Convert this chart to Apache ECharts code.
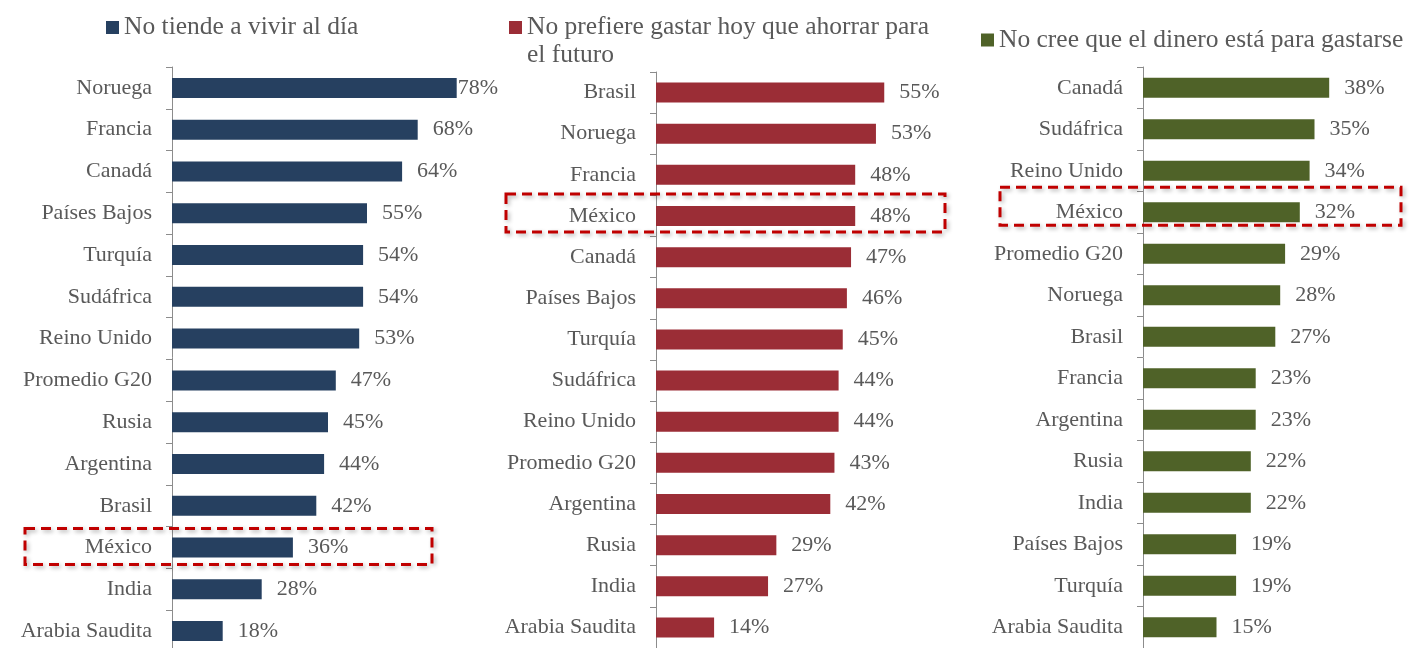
<!DOCTYPE html>
<html><head><meta charset="utf-8">
<script src="https://cdn.jsdelivr.net/npm/echarts@6/dist/echarts.min.js"></script>
<style>html,body{margin:0;padding:0;background:#fff}#c{width:1412px;height:648px}</style>
</head><body><div id="c"></div>
<script>
const seriesNames = ["No tiende a vivir al día", "No prefiere gastar hoy que ahorrar para el futuro", "No cree que el dinero está para gastarse"];
const cats1 = ["Noruega","Francia","Canadá","Países Bajos","Turquía","Sudáfrica","Reino Unido","Promedio G20","Rusia","Argentina","Brasil","México","India","Arabia Saudita"];
const vals1 = [78,68,64,55,54,54,53,47,45,44,42,36,28,18];
const cats2 = ["Brasil","Noruega","Francia","México","Canadá","Países Bajos","Turquía","Sudáfrica","Reino Unido","Promedio G20","Argentina","Rusia","India","Arabia Saudita"];
const vals2 = [55,53,48,48,47,46,45,44,44,43,42,29,27,14];
const cats3 = ["Canadá","Sudáfrica","Reino Unido","México","Promedio G20","Noruega","Brasil","Francia","Argentina","Rusia","India","Países Bajos","Turquía","Arabia Saudita"];
const vals3 = [38,35,34,32,29,28,27,23,23,22,22,19,19,15];
const highlightCat = "México";

const FONT = '"Liberation Serif", "Times New Roman", serif';
const TXT = '#595959';
const colors = ['#264060', '#9B2D36', '#4F6228'];
const panels = [
  {cats: cats1, vals: vals1, grid: {left:172, top:67, width:312, height:585}, min:5, max:85, legend:{left:106, top:14.5}},
  {cats: cats2, vals: vals2, grid: {left:656, top:72, width:249, height:576}, min:0, max:60, legend:{left:509, top:13.5}},
  {cats: cats3, vals: vals3, grid: {left:1143, top:67, width:245, height:581}, min:0, max:50, legend:{left:981, top:27}}
];

const chart = echarts.init(document.getElementById('c'), null, {renderer:'canvas'});
const option = {
  animation: false,
  backgroundColor: '#fff',
  grid: panels.map(p => Object.assign({outerBoundsMode:'none', containLabel:false}, p.grid)),
  xAxis: panels.map((p,i) => ({type:'value', gridIndex:i, min:p.min, max:p.max, show:false})),
  yAxis: panels.map((p,i) => ({
    type:'category', gridIndex:i, inverse:true, data:p.cats,
    axisLine:{show:true, lineStyle:{color:'#8c8c8c', width:1}},
    axisTick:{show:true, length:6, lineStyle:{color:'#8c8c8c'}},
    axisLabel:{margin:20, color:TXT, fontFamily:FONT, fontSize:22}
  })),
  legend: panels.map((p,i) => ({
    data:[seriesNames[i]], left:p.legend.left, top:p.legend.top, padding:0,
    selectedMode:false, itemWidth:13,
    icon: i===1 ? 'path://M0,0L13,0L13,13L0,13Z M0,41L13,41' : 'rect',
    itemHeight: i===1 ? 41 : 13,
    textStyle: i===1
      ? {color:TXT, fontFamily:FONT, fontSize:25.5, width:412, overflow:'break', lineHeight:28}
      : {color:TXT, fontFamily:FONT, fontSize:25.5}
  })),
  series: panels.map((p,i) => ({
    type:'bar', name:seriesNames[i], xAxisIndex:i, yAxisIndex:i,
    barWidth:20, itemStyle:{color:colors[i]},
    label:{show:true, position:'right', distance:15, formatter:'{c}%', color:TXT, fontFamily:FONT, fontSize:22},
    data: p.vals.map((v,k) => (i===0 && k===0) ? {value:v, label:{distance:1}} : v)
  }))
};
chart.setOption(option);

const boxSpec = [
  {offL:147, offR:260, dy:-1, h:36},
  {offL:150, offR:289, dy:-3, h:38},
  {offL:143, offR:258, dy:-6, h:38}
];
const graphics = panels.map((p,i) => {
  const pt = chart.convertToPixel({gridIndex:i}, [p.min, highlightCat]);
  const s = boxSpec[i];
  return {
    type:'rect', z:100,
    shape:{x:pt[0]-s.offL, y:pt[1]+s.dy-s.h/2, width:s.offL+s.offR, height:s.h},
    style:{fill:'none', stroke:'#C00000', lineWidth:3, lineDash:[10,6],
      shadowBlur:4, shadowColor:'rgba(0,0,0,0.3)', shadowOffsetX:2, shadowOffsetY:2}
  };
});
chart.setOption({graphic: graphics});
</script></body></html>
